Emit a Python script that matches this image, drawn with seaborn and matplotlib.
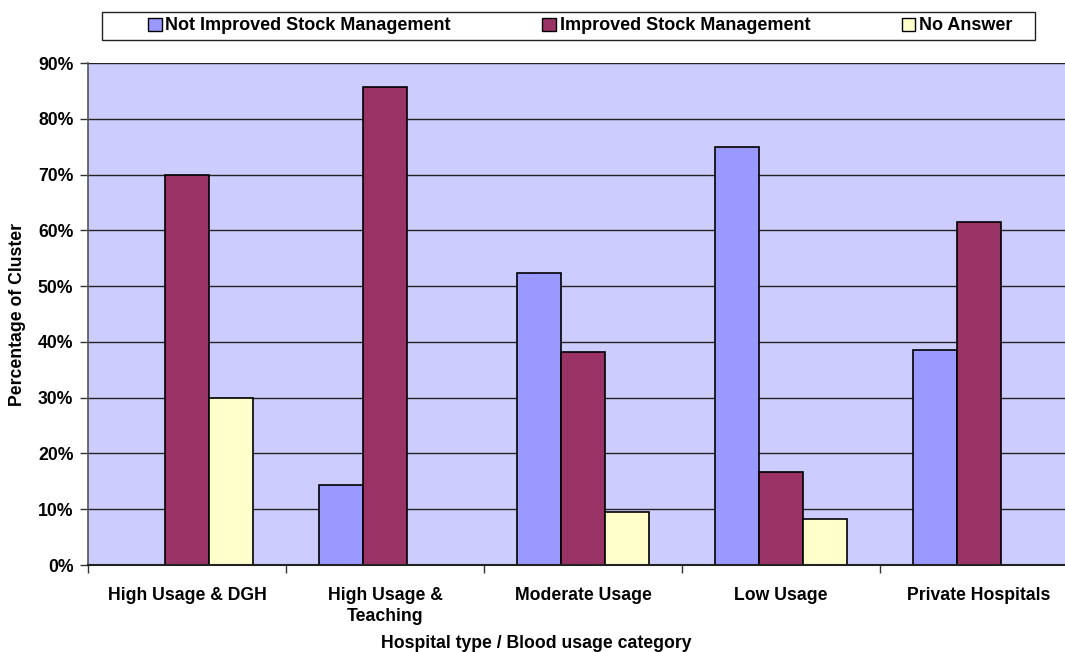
import matplotlib
matplotlib.use("Agg")
import matplotlib.pyplot as plt
from matplotlib.patches import Rectangle
from matplotlib.ticker import FixedLocator, FuncFormatter
import numpy as np
import pandas as pd
import seaborn as sns

# Survey results: share of each hospital cluster per answer
categories = ["High Usage & DGH", "High Usage &\nTeaching", "Moderate Usage",
              "Low Usage", "Private Hospitals"]
series_names = ["Not Improved Stock Management", "Improved Stock Management", "No Answer"]
not_improved = [0.0, 14.3, 52.4, 75.0, 38.5]
improved = [70.0, 85.7, 38.1, 16.7, 61.5]
no_answer = [30.0, 0.0, 9.5, 8.3, 0.0]
y_ticks = [0, 10, 20, 30, 40, 50, 60, 70, 80, 90]

df = pd.DataFrame({
    "category": categories * 3,
    "series": [s for s in series_names for _ in categories],
    "value": not_improved + improved + no_answer,
})

palette = {series_names[0]: "#9999FF",
           series_names[1]: "#993366",
           series_names[2]: "#FFFFCC"}

sns.set_style("white")
plt.rcParams["font.family"] = ["Liberation Sans", "DejaVu Sans"]
plt.rcParams["font.weight"] = "bold"
plt.rcParams["text.color"] = "black"
plt.rcParams["axes.labelcolor"] = "black"

W, H = 1065, 652
fig = plt.figure(figsize=(W / 100, H / 100), dpi=100)
# plot area in pixels: x 88..1078 (runs past the right edge), y 63..565
ax = fig.add_axes([88 / W, 1 - 565 / H, 990 / W, (565 - 63) / H])
ax.set_facecolor("#CCCCFF")

sns.barplot(data=df, x="category", y="value", hue="series", order=categories,
            hue_order=series_names, palette=palette, width=0.667, gap=0,
            edgecolor="black", linewidth=1.2, saturation=1, ax=ax, legend=False,
            zorder=3)

ax.set_xlim(-0.5, len(categories) - 0.5)
ax.set_ylim(0, 90)
ax.yaxis.set_major_locator(FixedLocator(y_ticks))
ax.yaxis.set_major_formatter(FuncFormatter(lambda v, p: f"{v:.0f}%"))
ax.grid(axis="y", color="#222222", linewidth=1.0, zorder=1)
ax.set_axisbelow(True)

# category separators as minor ticks, labels centred without ticks
ax.set_xticks(np.arange(len(categories)))
ax.set_xticklabels(categories, fontsize=12.7, fontweight="bold", linespacing=1.3,
                   color="black")
ax.xaxis.set_minor_locator(FixedLocator(np.arange(-0.5, len(categories), 1.0)))
ax.tick_params(axis="x", which="major", length=0, pad=16, labelcolor="black")
ax.tick_params(axis="x", which="minor", length=6, width=1, color="#333333",
               direction="out", bottom=True)
ax.tick_params(axis="y", which="major", length=6, width=1, color="#333333",
               direction="out", left=True, labelsize=12.7, pad=4.5,
               labelcolor="black")
for lbl in ax.get_yticklabels():
    lbl.set_fontweight("bold")

for side in ["top", "right"]:
    ax.spines[side].set_visible(False)
ax.spines["left"].set_color("#555555")
ax.spines["bottom"].set_color("#222222")
ax.spines["left"].set_linewidth(1.2)
ax.spines["bottom"].set_linewidth(1.5)
ax.spines["left"].set_zorder(4)
ax.spines["bottom"].set_zorder(4)

ax.set_xlabel("")
ax.set_ylabel("")
fig.text(536 / W, 1 - 647.5 / H, "Hospital type / Blood usage category",
         ha="center", va="baseline", fontsize=12.7, fontweight="bold", color="black")
fig.text(18 / W, 1 - 314 / H, "Percentage of Cluster", rotation=90,
         ha="center", va="center", fontsize=12.7, fontweight="bold", color="black")

# legend: three entries in one row inside a boxed strip
handles = [Rectangle((0, 0), 1, 1, facecolor=palette[s], edgecolor="black",
                     linewidth=1.0) for s in series_names]
fig.legend(handles, series_names, ncol=3, frameon=False, loc="center left",
           bbox_to_anchor=(148 / W, 1 - 26 / H),
           prop={"weight": "bold", "size": 13.0}, labelcolor="black",
           handlelength=0.75, handleheight=0.75, handletextpad=0.2,
           columnspacing=5.08, borderpad=0, borderaxespad=0)
fig.add_artist(Rectangle((102 / W, 1 - 40 / H), (1035 - 102) / W, 28 / H,
                         transform=fig.transFigure, facecolor="white",
                         edgecolor="#222222", linewidth=1.0, zorder=0))

fig.savefig("out.png", dpi=100, facecolor="white")
